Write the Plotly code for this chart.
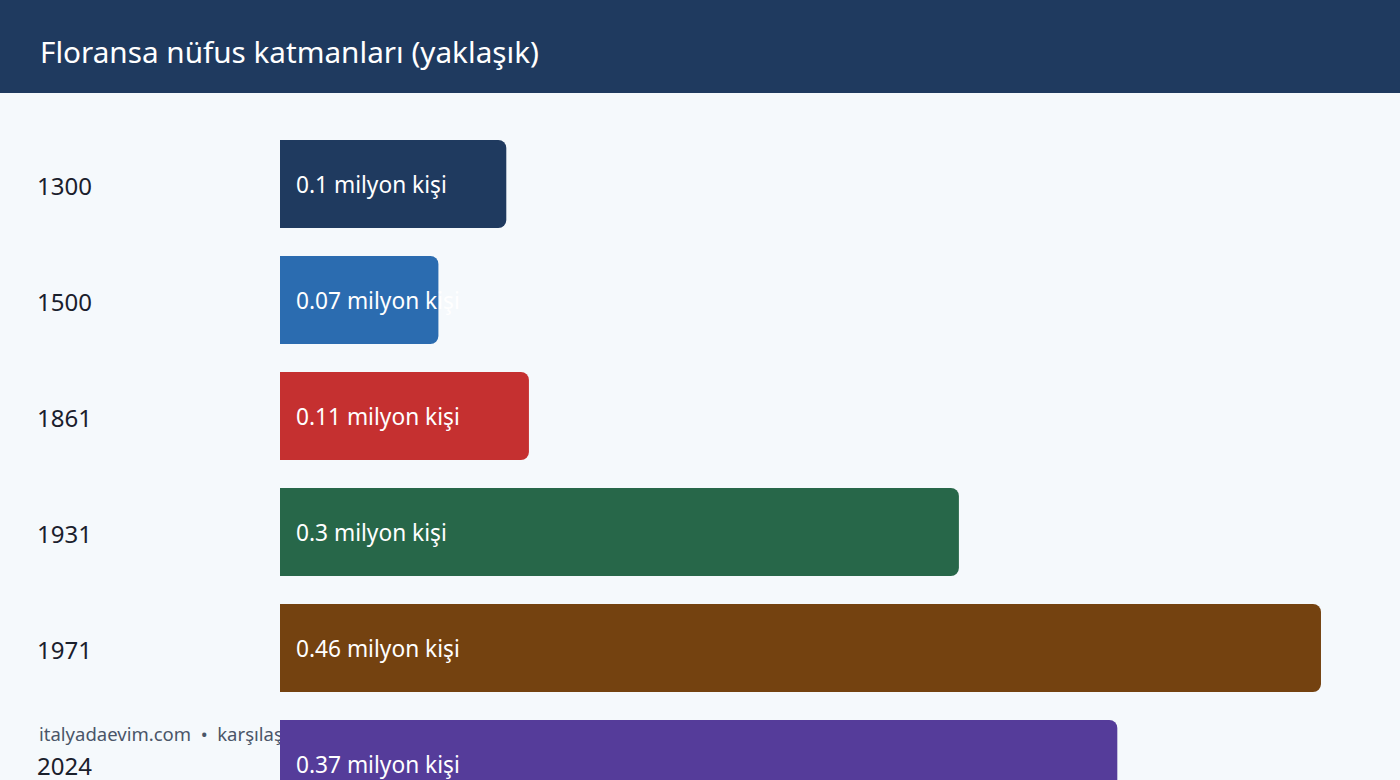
import plotly.graph_objects as go

years = ["1300", "1500", "1861", "1931", "1971", "2024"]
population_millions = [0.1, 0.07, 0.11, 0.3, 0.46, 0.37]
bar_labels = ["0.1 milyon kişi", "0.07 milyon kişi", "0.11 milyon kişi",
              "0.3 milyon kişi", "0.46 milyon kişi", "0.37 milyon kişi"]
bar_colors = ["#1f3a5f", "#2b6cb0", "#c53030", "#276749", "#744210", "#553c9a"]
title_text = "Floransa nüfus katmanları (yaklaşık)"
footer_text = "italyadaevim.com  •  karşılaştırma"

W, H = 1400, 780
FONT = "Noto Sans"
px_per_unit = 2263.0
bar_left_px = 280
pitch = 116.0
first_center = 184.0

fig = go.Figure()

# footer text on base subplot (drawn beneath the bars)
fig.add_trace(go.Scatter(
    x=[39], y=[736], mode="text", text=[footer_text],
    textposition="middle right",
    textfont=dict(family=FONT, size=18.5, color="#4a5568"),
    hoverinfo="skip", showlegend=False, cliponaxis=False,
    xaxis="x", yaxis="y",
))

fig.add_trace(go.Bar(
    y=years, x=population_millions, orientation="h",
    marker=dict(color=bar_colors, line=dict(width=0)),
    hoverinfo="skip", showlegend=False,
    xaxis="x2", yaxis="y2",
))

t_val = -first_center / pitch
b_val = t_val + H / pitch

annotations = []
for i, (yr, lab) in enumerate(zip(years, bar_labels)):
    annotations.append(dict(
        x=0, y=i, xref="x2", yref="y2", text=lab, showarrow=False,
        xanchor="left", yanchor="middle", xshift=14,
        font=dict(family=FONT, size=22.7, color="#ffffff"),
    ))
    annotations.append(dict(
        x=35 / W, y=i, xref="paper", yref="y2", text=yr, showarrow=False,
        xanchor="left", yanchor="middle", yshift=-1,
        font=dict(family=FONT, size=24, color="#1a202c"),
    ))
annotations.append(dict(
    x=38 / W, y=1 - 52 / H, xref="paper", yref="paper", text=title_text,
    showarrow=False, xanchor="left", yanchor="middle",
    font=dict(family=FONT, size=29.7, color="#ffffff"),
))

fig.update_layout(
    width=W, height=H,
    margin=dict(l=0, r=0, t=0, b=0),
    paper_bgcolor="#f5f9fc", plot_bgcolor="#f5f9fc",
    bargap=28 / pitch,
    barcornerradius=8,
    xaxis=dict(range=[0, W], visible=False, fixedrange=True),
    yaxis=dict(range=[H, 0], visible=False, fixedrange=True),
    xaxis2=dict(range=[-bar_left_px / px_per_unit, (W - bar_left_px) / px_per_unit],
                overlaying="x", visible=False, fixedrange=True),
    yaxis2=dict(type="category", categoryorder="array", categoryarray=years,
                range=[b_val, t_val], overlaying="y", visible=False, fixedrange=True),
    shapes=[dict(type="rect", xref="paper", yref="paper", x0=0, x1=1,
                 y0=1 - 93 / H, y1=1, fillcolor="#1f3a5f", line=dict(width=0),
                 layer="below")],
    annotations=annotations,
)

fig.write_html("out.html", config={"displayModeBar": False},
               post_script="document.body.style.margin='0';document.body.style.background='#f5f9fc';")
